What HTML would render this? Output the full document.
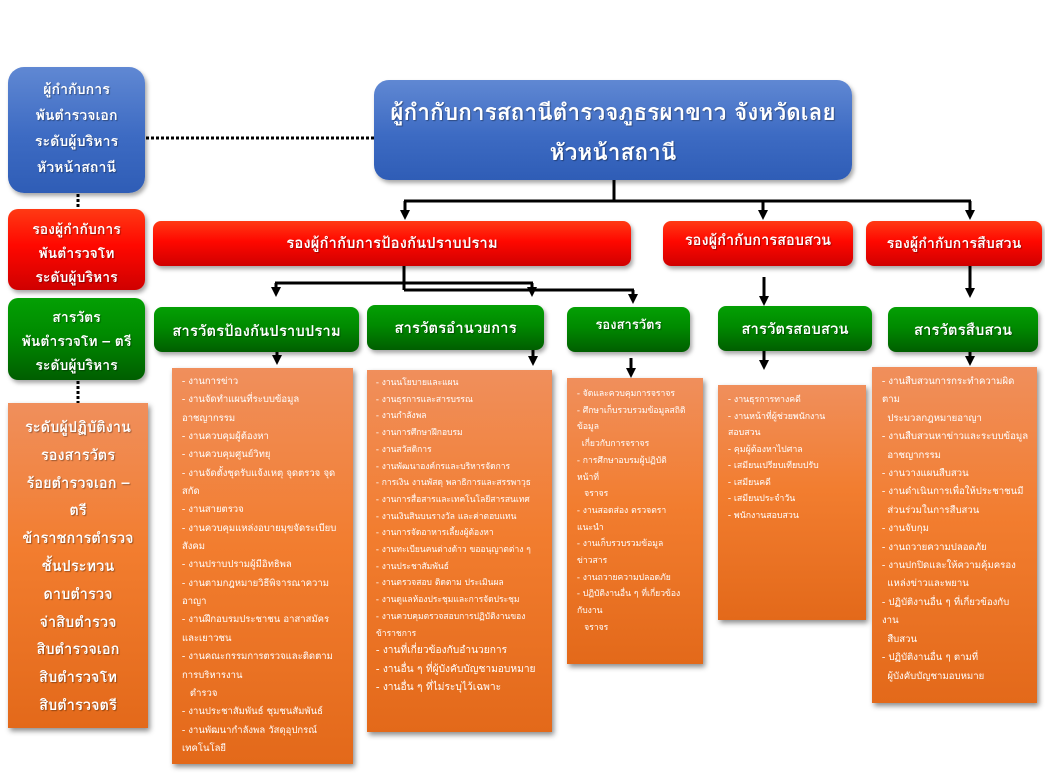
<!DOCTYPE html>
<html><head><meta charset="utf-8">
<style>
*{margin:0;padding:0;box-sizing:border-box}
html,body{width:1045px;height:779px;background:#fff;overflow:hidden}
body{position:relative;font-family:"Tahoma","Loma","Garuda","Noto Sans Thai","Leelawadee UI","DejaVu Sans","Liberation Sans",sans-serif;color:#fff}
.b{position:absolute}
.blue{background:linear-gradient(#6088d3,#3d6bc3 55%,#2f5db6);box-shadow:2px 3px 4px rgba(0,0,0,.35)}
.red{background:linear-gradient(#ff3a14,#ff0800 45%,#cf0000);box-shadow:2px 3px 4px rgba(0,0,0,.35)}
.green{background:linear-gradient(#04a004,#008a00 45%,#005e00);box-shadow:2px 3px 4px rgba(0,0,0,.35)}
.orange{background:linear-gradient(#f08f5c,#f27d2f 45%,#e3691a);box-shadow:2px 3px 5px rgba(0,0,0,.45)}
.t{position:absolute;white-space:nowrap;font-weight:bold;text-align:center;text-shadow:1px 1px 1px rgba(0,0,0,.35)}
.l{position:absolute;white-space:nowrap;color:#fff}
.l div{white-space:nowrap}
svg{position:absolute;left:0;top:0}
</style></head><body>

<!-- left column -->
<div class="b blue" style="left:8px;top:67px;width:137px;height:126px;border-radius:16px"></div>
<div class="t" style="left:8px;top:77px;width:137px;font-size:14.2px;line-height:26px">ผู้กำกับการ<br>พันตำรวจเอก<br>ระดับผู้บริหาร<br>หัวหน้าสถานี</div>

<div class="b red" style="left:8px;top:209px;width:137px;height:81px;border-radius:10px"></div>
<div class="t" style="left:8px;top:218px;width:137px;font-size:14px;line-height:24px">รองผู้กำกับการ<br>พันตำรวจโท<br>ระดับผู้บริหาร</div>

<div class="b green" style="left:8px;top:298px;width:137px;height:82px;border-radius:10px"></div>
<div class="t" style="left:8px;top:306px;width:137px;font-size:14px;line-height:24px">สารวัตร<br>พันตำรวจโท – ตรี<br>ระดับผู้บริหาร</div>

<div class="b orange" style="left:8px;top:403px;width:140px;height:325px"></div>
<div class="t" style="left:8px;top:414px;width:140px;font-size:14.6px;line-height:27.8px">ระดับผู้ปฏิบัติงาน<br>รองสารวัตร<br>ร้อยตำรวจเอก –<br>ตรี<br>ข้าราชการตำรวจ<br>ชั้นประทวน<br>ดาบตำรวจ<br>จ่าสิบตำรวจ<br>สิบตำรวจเอก<br>สิบตำรวจโท<br>สิบตำรวจตรี</div>

<!-- title -->
<div class="b blue" style="left:374px;top:80px;width:478px;height:100px;border-radius:15px"></div>
<div class="t" style="left:374px;top:92px;width:478px;font-size:22.7px;line-height:40px">ผู้กำกับการสถานีตำรวจภูธรผาขาว จังหวัดเลย<br>หัวหน้าสถานี</div>

<!-- red row -->
<div class="b red" style="left:153px;top:221px;width:478px;height:45px;border-radius:8px"></div>
<div class="t" style="left:153px;top:231px;width:478px;font-size:15px;line-height:24px">รองผู้กำกับการป้องกันปราบปราม</div>

<div class="b red" style="left:663px;top:221px;width:190px;height:45px;border-radius:8px"></div>
<div class="t" style="left:663px;top:229px;width:190px;font-size:14.6px;line-height:24px">รองผู้กำกับการสอบสวน</div>

<div class="b red" style="left:866px;top:221px;width:176px;height:45px;border-radius:8px"></div>
<div class="t" style="left:866px;top:232px;width:176px;font-size:14.3px;line-height:24px">รองผู้กำกับการสืบสวน</div>

<!-- green row -->
<div class="b green" style="left:154px;top:307px;width:205px;height:45px;border-radius:8px"></div>
<div class="t" style="left:154px;top:319px;width:205px;font-size:15px;line-height:24px">สารวัตรป้องกันปราบปราม</div>

<div class="b green" style="left:367px;top:305px;width:177px;height:45px;border-radius:8px"></div>
<div class="t" style="left:367px;top:316px;width:177px;font-size:15px;line-height:24px">สารวัตรอำนวยการ</div>

<div class="b green" style="left:567px;top:307px;width:123px;height:45px;border-radius:8px"></div>
<div class="t" style="left:567px;top:313px;width:123px;font-size:13px;line-height:24px">รองสารวัตร</div>

<div class="b green" style="left:718px;top:306px;width:154px;height:45px;border-radius:8px"></div>
<div class="t" style="left:718px;top:317px;width:154px;font-size:15px;line-height:24px">สารวัตรสอบสวน</div>

<div class="b green" style="left:888px;top:307px;width:150px;height:45px;border-radius:8px"></div>
<div class="t" style="left:888px;top:318px;width:150px;font-size:15px;line-height:24px">สารวัตรสืบสวน</div>

<!-- orange lists -->
<div class="b orange" style="left:172px;top:368px;width:181px;height:396px"></div>
<div class="l" style="left:182px;top:373px;font-size:9.5px;line-height:18.35px">
<div>- งานการข่าว</div>
<div>- งานจัดทำแผนที่ระบบข้อมูล</div>
<div>อาชญากรรม</div>
<div>- งานควบคุมผู้ต้องหา</div>
<div>- งานควบคุมศูนย์วิทยุ</div>
<div>- งานจัดตั้งชุดรับแจ้งเหตุ จุดตรวจ จุด</div>
<div>สกัด</div>
<div>- งานสายตรวจ</div>
<div>- งานควบคุมแหล่งอบายมุขจัดระเบียบ</div>
<div>สังคม</div>
<div>- งานปราบปรามผู้มีอิทธิพล</div>
<div>- งานตามกฎหมายวิธีพิจารณาความ</div>
<div>อาญา</div>
<div>- งานฝึกอบรมประชาชน อาสาสมัคร</div>
<div>และเยาวชน</div>
<div>- งานคณะกรรมการตรวจและติดตาม</div>
<div>การบริหารงาน</div>
<div>&nbsp;&nbsp;&nbsp;ตำรวจ</div>
<div>- งานประชาสัมพันธ์ ชุมชนสัมพันธ์</div>
<div>- งานพัฒนากำลังพล วัสดุอุปกรณ์</div>
<div>เทคโนโลยี</div>
</div>

<div class="b orange" style="left:367px;top:370px;width:185px;height:362px"></div>
<div class="l" style="left:376px;top:374px;font-size:8.5px;line-height:16.7px">
<div>- งานนโยบายและแผน</div>
<div>- งานธุรการและสารบรรณ</div>
<div>- งานกำลังพล</div>
<div>- งานการศึกษาฝึกอบรม</div>
<div>- งานสวัสดิการ</div>
<div>- งานพัฒนาองค์กรและบริหารจัดการ</div>
<div>- การเงิน งานพัสดุ พลาธิการและสรรพาวุธ</div>
<div>- งานการสื่อสารและเทคโนโลยีสารสนเทศ</div>
<div>- งานเงินสินบนรางวัล และค่าตอบแทน</div>
<div>- งานการจัดอาหารเลี้ยงผู้ต้องหา</div>
<div>- งานทะเบียนคนต่างด้าว ขออนุญาตต่าง ๆ</div>
<div>- งานประชาสัมพันธ์</div>
<div>- งานตรวจสอบ ติดตาม ประเมินผล</div>
<div>- งานดูแลห้องประชุมและการจัดประชุม</div>
<div>- งานควบคุมตรวจสอบการปฏิบัติงานของ</div>
<div>ข้าราชการ</div>
<div style="font-size:10.2px;line-height:18.3px">- งานที่เกี่ยวข้องกับอำนวยการ</div>
<div style="font-size:10.2px;line-height:18.3px">- งานอื่น ๆ ที่ผู้บังคับบัญชามอบหมาย</div>
<div style="font-size:10.2px;line-height:18.3px">- งานอื่น ๆ ที่ไม่ระบุไว้เฉพาะ</div>
</div>

<div class="b orange" style="left:567px;top:378px;width:136px;height:286px"></div>
<div class="l" style="left:577px;top:385px;font-size:8.6px;line-height:16.7px">
<div>- จัดและควบคุมการจราจร</div>
<div>- ศึกษาเก็บรวบรวมข้อมูลสถิติ</div>
<div>ข้อมูล</div>
<div>&nbsp;&nbsp;เกี่ยวกับการจราจร</div>
<div>- การศึกษาอบรมผู้ปฏิบัติ</div>
<div>หน้าที่</div>
<div>&nbsp;&nbsp;&nbsp;จราจร</div>
<div>- งานสอดส่อง ตรวจตรา</div>
<div>แนะนำ</div>
<div>- งานเก็บรวบรวมข้อมูล</div>
<div>ข่าวสาร</div>
<div>- งานถวายความปลอดภัย</div>
<div>- ปฏิบัติงานอื่น ๆ ที่เกี่ยวข้อง</div>
<div>กับงาน</div>
<div>&nbsp;&nbsp;&nbsp;จราจร</div>
</div>

<div class="b orange" style="left:718px;top:385px;width:148px;height:235px"></div>
<div class="l" style="left:728px;top:391px;font-size:8.8px;line-height:16.5px">
<div>- งานธุรการทางคดี</div>
<div>- งานหน้าที่ผู้ช่วยพนักงาน</div>
<div>สอบสวน</div>
<div>- คุมผู้ต้องหาไปศาล</div>
<div>- เสมียนเปรียบเทียบปรับ</div>
<div>- เสมียนคดี</div>
<div>- เสมียนประจำวัน</div>
<div>- พนักงานสอบสวน</div>
</div>

<div class="b orange" style="left:872px;top:367px;width:165px;height:336px"></div>
<div class="l" style="left:882px;top:373px;font-size:9.6px;line-height:18.4px">
<div>- งานสืบสวนการกระทำความผิด</div>
<div>ตาม</div>
<div>&nbsp;&nbsp;ประมวลกฎหมายอาญา</div>
<div>- งานสืบสวนหาข่าวและระบบข้อมูล</div>
<div>&nbsp;&nbsp;อาชญากรรม</div>
<div>- งานวางแผนสืบสวน</div>
<div>- งานดำเนินการเพื่อให้ประชาชนมี</div>
<div>&nbsp;&nbsp;ส่วนร่วมในการสืบสวน</div>
<div>- งานจับกุม</div>
<div>- งานถวายความปลอดภัย</div>
<div>- งานปกปิดและให้ความคุ้มครอง</div>
<div>&nbsp;&nbsp;แหล่งข่าวและพยาน</div>
<div>- ปฏิบัติงานอื่น ๆ ที่เกี่ยวข้องกับ</div>
<div>งาน</div>
<div>&nbsp;&nbsp;สืบสวน</div>
<div>- ปฏิบัติงานอื่น ๆ ตามที่</div>
<div>&nbsp;&nbsp;ผู้บังคับบัญชามอบหมาย</div>
</div>

<!-- connectors -->
<svg width="1045" height="779" viewBox="0 0 1045 779">
<g stroke="#000" stroke-width="3" fill="none" stroke-dasharray="3 2">
<line x1="146" y1="138" x2="374" y2="138"/>
<line x1="78" y1="194" x2="78" y2="209"/>
<line x1="78" y1="381" x2="78" y2="403"/>
</g>
<g stroke="#000" stroke-width="3" fill="none">
<line x1="614" y1="180" x2="614" y2="201"/>
<line x1="404" y1="201" x2="971" y2="201"/>
<line x1="405" y1="201" x2="405" y2="212"/>
<line x1="763" y1="201" x2="763" y2="212"/>
<line x1="970" y1="201" x2="970" y2="212"/>

<line x1="404" y1="266" x2="404" y2="290"/>
<line x1="275" y1="283" x2="533" y2="283"/>
<line x1="404" y1="290" x2="634" y2="290"/>
<line x1="276" y1="283" x2="276" y2="289"/>
<line x1="532" y1="283" x2="532" y2="289"/>
<line x1="633" y1="290" x2="633" y2="296"/>

<line x1="764" y1="277" x2="764" y2="298"/>
<line x1="970" y1="266" x2="970" y2="290"/>

<line x1="277" y1="352" x2="277" y2="357"/>
<line x1="533" y1="350" x2="533" y2="358"/>
<line x1="631" y1="358" x2="631" y2="370"/>
<line x1="764" y1="351" x2="764" y2="362"/>
<line x1="970" y1="352" x2="970" y2="358"/>
</g>
<g fill="#000">
<polygon points="400,210 410,210 405,220"/>
<polygon points="758,210 768,210 763,220"/>
<polygon points="965,210 975,210 970,220"/>
<polygon points="271,287 281,287 276,297"/>
<polygon points="527,287 537,287 532,297"/>
<polygon points="628,294 638,294 633,304"/>
<polygon points="759,296 769,296 764,306"/>
<polygon points="965,288 975,288 970,298"/>
<polygon points="272,355 282,355 277,365"/>
<polygon points="528,356 538,356 533,366"/>
<polygon points="626,368 636,368 631,378"/>
<polygon points="759,360 769,360 764,370"/>
<polygon points="965,356 975,356 970,366"/>
</g>
</svg>
</body></html>
